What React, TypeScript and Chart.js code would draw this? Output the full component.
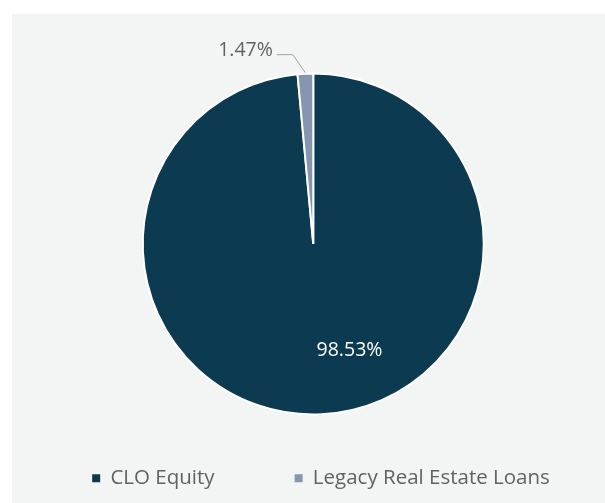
import { useEffect, useRef } from "react";
import { Chart, registerables } from "chart.js";

Chart.register(...registerables);

const categories = ["CLO Equity", "Legacy Real Estate Loans"];
const values = [98.53, 1.47];
const colors = ["#0C3A50", "#8696B0"];

const FONT = "'Open Sans', sans-serif";
const TEXT_GRAY = "#626262";

const legendPlacement = {
  id: "legendPlacement",
  beforeInit(chart: any) {
    const legend = chart.legend;
    if (!legend) return;
    const fit = legend.fit;
    legend.fit = function () {
      const mw = this.maxWidth;
      this.maxWidth = 5000;
      fit.call(this);
      this.maxWidth = mw;
      this.width = mw;
      this.height = 87.5;
    };
  },
  afterLayout(chart: any) {
    const l = chart.legend;
    if (!l) return;
    const dx = 7.75;
    l.left += dx - 200;
    l.right += dx + 200;
    l.top -= 27.5;
    l.bottom = chart.height;
    l.width = l.right - l.left;
    l.height = l.bottom - l.top;
  },
};

const dataLabels = {
  id: "dataLabels",
  afterDatasetsDraw(chart: any) {
    const meta = chart.getDatasetMeta(0);
    const ctx = chart.ctx as CanvasRenderingContext2D;
    const total = values.reduce((a, b) => a + b, 0);
    const pct = (v: number) => `${((v / total) * 100).toFixed(2)}%`;

    ctx.save();
    ctx.font = `19.5px ${FONT}`;
    ctx.textBaseline = "middle";

    // inside label for the large slice
    const a0 = meta.data[0].getProps(["x", "y", "startAngle", "endAngle", "outerRadius"], true);
    const ang0 = a0.startAngle + (a0.endAngle - a0.startAngle) * 0.4545;
    const r0 = a0.outerRadius * 0.66;
    ctx.fillStyle = "#FFFFFF";
    ctx.textAlign = "center";
    ctx.fillText(pct(values[0]), a0.x + Math.cos(ang0) * r0, a0.y + Math.sin(ang0) * r0);

    // outside label with leader line for the small slice
    const a1 = meta.data[1].getProps(["x", "y", "startAngle", "endAngle", "outerRadius"], true);
    const mid = (a1.startAngle + a1.endAngle) / 2;
    const px = a1.x + Math.cos(mid) * (a1.outerRadius + 1);
    const py = a1.y + Math.sin(mid) * (a1.outerRadius + 1);
    const ex = px - 12.5;
    const ey = py - 18;
    const hx = ex - 16;
    ctx.strokeStyle = "#A0A0A0";
    ctx.lineWidth = 1;
    ctx.beginPath();
    ctx.moveTo(px, py);
    ctx.lineTo(ex, ey);
    ctx.lineTo(hx, ey);
    ctx.stroke();
    ctx.fillStyle = TEXT_GRAY;
    ctx.textAlign = "right";
    ctx.fillText(pct(values[1]), hx - 4, ey - 4.5);

    ctx.restore();
  },
};

export default function App() {
  const canvasRef = useRef<HTMLCanvasElement | null>(null);

  useEffect(() => {
    if (!canvasRef.current) return;
    const chart = new Chart(canvasRef.current, {
      type: "pie",
      data: {
        labels: categories,
        datasets: [
          {
            data: values,
            backgroundColor: colors,
            borderColor: "#FFFFFF",
            borderWidth: 2,
            clip: false as any,
          },
        ],
      },
      options: {
        animation: false,
        responsive: false,
        events: [],
        layout: { padding: { top: 58.5, left: 9.5, right: 0, bottom: 0 } },
        plugins: {
          tooltip: { enabled: false },
          legend: {
            position: "bottom",
            labels: {
              boxWidth: 8,
              boxHeight: 8,
              padding: 80,
              color: TEXT_GRAY,
              font: { family: FONT, size: 20.5 },
              generateLabels(c: any) {
                const items = (Chart as any).overrides.pie.plugins.legend.labels.generateLabels(c);
                return items.map((it: any) => ({ ...it, lineWidth: 0, strokeStyle: "rgba(0,0,0,0)" }));
              },
            },
          },
        },
      },
      plugins: [legendPlacement, dataLabels],
    });
    return () => chart.destroy();
  }, []);

  return (
    <div
      style={{
        position: "fixed",
        left: 0,
        top: 0,
        width: 605,
        height: 503,
        background: "#FFFFFF",
        overflow: "hidden",
      }}
    >
      <div
        style={{
          position: "absolute",
          left: 12,
          top: 14,
          width: 593,
          height: 489,
          background: "#F3F4F4",
        }}
      >
        <canvas ref={canvasRef} width={593} height={489} style={{ display: "block" }} />
      </div>
    </div>
  );
}
